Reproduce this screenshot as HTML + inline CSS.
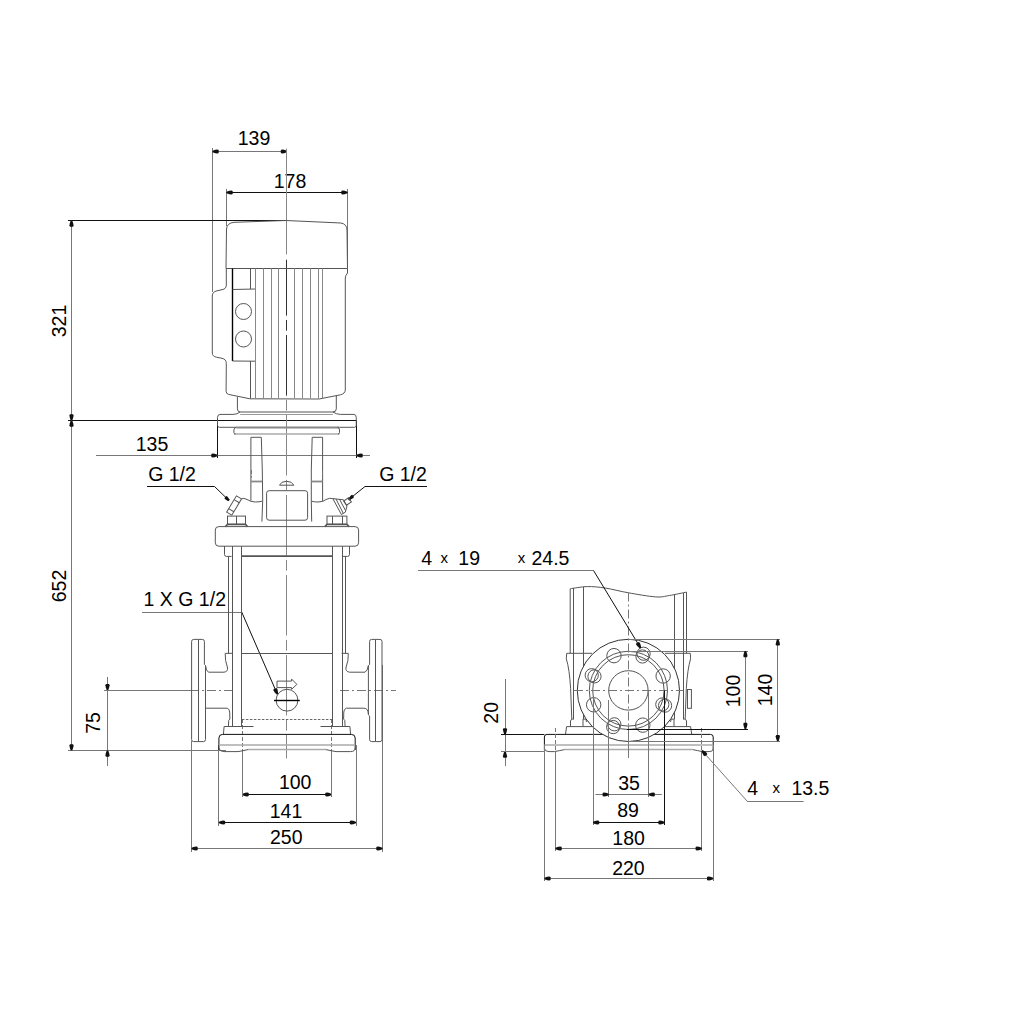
<!DOCTYPE html>
<html><head><meta charset="utf-8"><style>
html,body{margin:0;padding:0;background:#fff;}
svg{display:block;}
text{font-family:"Liberation Sans",sans-serif;fill:#000;}
.o{fill:none;stroke:#555;stroke-width:1;}
.ow{fill:#fff;stroke:#333;stroke-width:1;}
.f{fill:none;stroke:#888;stroke-width:1;}
.t{fill:none;stroke:#555;stroke-width:1.7;}
.g2{fill:none;stroke:#aaa;stroke-width:1.5;}
.d{fill:none;stroke:#777;stroke-width:1;}
.dk{fill:none;stroke:#111;stroke-width:1;}
.c{fill:none;stroke:#888;stroke-width:1;stroke-dasharray:60.5 4.5 10.5 4.5;stroke-dashoffset:4.8;}
.c2{fill:none;stroke:#777;stroke-width:1;stroke-dasharray:9 3 2 3;}
.cs{fill:none;stroke:#888;stroke-width:1;}
.dash2{fill:none;stroke:#777;stroke-width:1;stroke-dasharray:4 2;}
.dk2{fill:none;stroke:#000;stroke-width:1.4;}
.g1{fill:none;stroke:#999;stroke-width:1;}
.t2{fill:none;stroke:#888;stroke-width:1.8;}
.cm{fill:none;stroke:#333;stroke-width:1;stroke-dasharray:60.5 4.5 10.5 4.5;stroke-dashoffset:4.8;}
.dash{fill:none;stroke:#666;stroke-width:1;stroke-dasharray:2.5 1.5;}
.ar{fill:#111;stroke:none;}
</style></head><body>
<svg width="1024" height="1024" viewBox="0 0 1024 1024">
<rect width="1024" height="1024" fill="#fff"/>
<line x1="212.5" y1="148" x2="212.5" y2="292" class="d"/>
<line x1="212.5" y1="151.5" x2="286.5" y2="151.5" class="d"/>
<polygon points="212.50,150.70 215.29,149.82 217.46,149.40 218.70,149.93 218.70,153.07 217.46,153.60 215.29,153.18 212.50,152.30" class="ar"/>
<polygon points="287.00,152.30 284.21,153.18 282.04,153.60 280.80,153.07 280.80,149.93 282.04,149.40 284.21,149.82 287.00,150.70" class="ar"/>
<text x="254" y="145" font-size="19.5" text-anchor="middle">139</text>
<line x1="226.5" y1="189" x2="226.5" y2="226" class="d"/>
<line x1="347.5" y1="189" x2="347.5" y2="268" class="d"/>
<line x1="226.5" y1="192.5" x2="347.5" y2="192.5" class="dk"/>
<polygon points="226.50,191.70 229.29,190.82 231.46,190.40 232.70,190.93 232.70,194.07 231.46,194.60 229.29,194.18 226.50,193.30" class="ar"/>
<polygon points="347.50,193.30 344.71,194.18 342.54,194.60 341.30,194.07 341.30,190.93 342.54,190.40 344.71,190.82 347.50,191.70" class="ar"/>
<text x="290" y="188" font-size="19.5" text-anchor="middle">178</text>
<line x1="68" y1="220.5" x2="287" y2="220.5" class="dk"/>
<line x1="68" y1="420.5" x2="356.5" y2="420.5" class="dk"/>
<line x1="68" y1="750.5" x2="226" y2="750.5" class="d"/>
<line x1="71.5" y1="220.5" x2="71.5" y2="750.5" class="d"/>
<polygon points="72.30,220.50 73.18,223.29 73.60,225.46 73.08,226.70 69.92,226.70 69.40,225.46 69.82,223.29 70.70,220.50" class="ar"/>
<polygon points="70.70,420.50 69.82,417.71 69.40,415.54 69.92,414.30 73.08,414.30 73.60,415.54 73.18,417.71 72.30,420.50" class="ar"/>
<polygon points="72.30,420.50 73.18,423.29 73.60,425.46 73.08,426.70 69.92,426.70 69.40,425.46 69.82,423.29 70.70,420.50" class="ar"/>
<polygon points="70.70,750.50 69.82,747.71 69.40,745.54 69.92,744.30 73.08,744.30 73.60,745.54 73.18,747.71 72.30,750.50" class="ar"/>
<text x="65.5" y="321" font-size="19.5" text-anchor="middle" transform="rotate(-90 65.5 321)">321</text>
<text x="65.5" y="586" font-size="19.5" text-anchor="middle" transform="rotate(-90 65.5 586)">652</text>
<line x1="107.5" y1="677" x2="107.5" y2="766" class="d"/>
<polygon points="106.70,690.30 105.82,687.51 105.40,685.34 105.92,684.10 109.08,684.10 109.60,685.34 109.18,687.51 108.30,690.30" class="ar"/>
<polygon points="108.30,750.50 109.18,753.29 109.60,755.46 109.08,756.70 105.92,756.70 105.40,755.46 105.82,753.29 106.70,750.50" class="ar"/>
<line x1="104" y1="690.5" x2="190" y2="690.5" class="d"/>
<text x="100" y="723" font-size="19.5" text-anchor="middle" transform="rotate(-90 100 723)">75</text>
<line x1="217.5" y1="420.5" x2="217.5" y2="458" class="dk"/>
<line x1="356.5" y1="420.5" x2="356.5" y2="458" class="dk"/>
<line x1="96" y1="455.5" x2="370" y2="455.5" class="d"/>
<polygon points="217.50,456.30 214.71,457.18 212.54,457.60 211.30,457.07 211.30,453.93 212.54,453.40 214.71,453.82 217.50,454.70" class="ar"/>
<polygon points="356.50,454.70 359.29,453.82 361.46,453.40 362.70,453.93 362.70,457.07 361.46,457.60 359.29,457.18 356.50,456.30" class="ar"/>
<text x="152" y="451" font-size="19.5" text-anchor="middle">135</text>
<text x="172" y="480.5" font-size="19.5" text-anchor="middle">G 1/2</text>
<line x1="147" y1="486.5" x2="214.5" y2="486.5" class="dk"/>
<line x1="214.5" y1="486.5" x2="229" y2="500.5" class="dk"/>
<polygon points="228.17,501.36 226.38,499.97 224.87,499.02 224.47,498.00 226.34,496.06 227.37,496.43 228.38,497.90 229.83,499.64" class="ar"/>
<text x="403" y="480.8" font-size="19.5" text-anchor="middle">G 1/2</text>
<line x1="365" y1="486.5" x2="427" y2="486.5" class="dk"/>
<line x1="365" y1="486.5" x2="350" y2="498.5" class="dk"/>
<polygon points="347.74,498.77 349.69,496.88 351.10,495.28 352.31,494.87 354.01,496.97 353.36,498.08 351.50,499.12 349.26,500.63" class="ar"/>
<text x="184.8" y="606" font-size="19.5" text-anchor="middle">1 X G 1/2</text>
<line x1="142" y1="612.5" x2="241.7" y2="612.5" class="d"/>
<line x1="241.7" y1="612" x2="277.4" y2="694.3" class="dk"/>
<polygon points="276.67,694.62 274.75,692.41 273.50,690.58 273.49,689.24 276.38,687.98 277.36,688.91 277.83,691.07 278.13,693.98" class="ar"/>
<line x1="218.5" y1="745" x2="218.5" y2="826" class="d"/>
<line x1="356.5" y1="745" x2="356.5" y2="826" class="d"/>
<line x1="191.5" y1="741" x2="191.5" y2="852" class="d"/>
<line x1="382.5" y1="665" x2="382.5" y2="852" class="d"/>
<line x1="242.5" y1="794.5" x2="331.5" y2="794.5" class="dk"/>
<polygon points="242.50,793.70 245.29,792.82 247.46,792.40 248.70,792.92 248.70,796.08 247.46,796.60 245.29,796.18 242.50,795.30" class="ar"/>
<polygon points="331.50,795.30 328.71,796.18 326.54,796.60 325.30,796.08 325.30,792.92 326.54,792.40 328.71,792.82 331.50,793.70" class="ar"/>
<text x="295.2" y="789" font-size="19.5" text-anchor="middle">100</text>
<line x1="218.9" y1="822.5" x2="356" y2="822.5" class="dk"/>
<polygon points="218.90,821.70 221.69,820.82 223.86,820.40 225.10,820.92 225.10,824.08 223.86,824.60 221.69,824.18 218.90,823.30" class="ar"/>
<polygon points="356.00,823.30 353.21,824.18 351.04,824.60 349.80,824.08 349.80,820.92 351.04,820.40 353.21,820.82 356.00,821.70" class="ar"/>
<text x="286" y="818" font-size="19.5" text-anchor="middle">141</text>
<line x1="191.5" y1="848.5" x2="382.5" y2="848.5" class="d"/>
<polygon points="191.50,847.70 194.29,846.82 196.46,846.40 197.70,846.92 197.70,850.08 196.46,850.60 194.29,850.18 191.50,849.30" class="ar"/>
<polygon points="382.50,849.30 379.71,850.18 377.54,850.60 376.30,850.08 376.30,846.92 377.54,846.40 379.71,846.82 382.50,847.70" class="ar"/>
<text x="286.3" y="844" font-size="19.5" text-anchor="middle">250</text>
<line x1="286.5" y1="148.6" x2="286.5" y2="254.4" class="cs"/>
<line x1="286.5" y1="259.8" x2="286.5" y2="758.5" class="c"/>
<line x1="286.5" y1="259.8" x2="286.5" y2="398.5" class="cm"/>
<line x1="190" y1="690.5" x2="234.6" y2="690.5" class="c2"/>
<line x1="340" y1="690.5" x2="396" y2="690.5" class="c2"/>
<line x1="242.5" y1="719" x2="242.5" y2="752" class="dash2"/>
<line x1="242.5" y1="752" x2="242.5" y2="797" class="d"/>
<line x1="331.5" y1="719" x2="331.5" y2="752" class="dash2"/>
<line x1="331.5" y1="752" x2="331.5" y2="797" class="d"/>
<path d="M226,268.5 L226.5,229 Q227,223 234,222.3 L286,220.5 L341,223 Q346.8,224 347,230 L347.5,268.5 Z" class="o"/>
<path d="M226.3,268.5 L226.3,285 Q226.3,289 222,289.7 L217,290.8 Q212.3,291.8 212.3,296 L212.3,353 Q212.3,356.5 216.5,357.2 L222,358.3 Q226.3,359.2 226.3,363.5 L226.1,391.5 Q226.3,393.8 228.6,394.4 L249.9,398.8 L319.1,399 L340.5,394.8 Q345.1,393.6 345.3,390 L345.3,278 Q345.3,275.5 347.5,273 L347.5,268.5" class="o"/>
<line x1="232.5" y1="268.5" x2="232.5" y2="361" class="dk2"/>
<line x1="255.5" y1="289" x2="255.5" y2="361" class="o"/>
<line x1="232.5" y1="289.5" x2="255" y2="289" class="o"/>
<line x1="232.5" y1="361" x2="255" y2="361.2" class="o"/>
<line x1="250.5" y1="268.5" x2="250.5" y2="289" class="o"/>
<line x1="250.5" y1="361" x2="250.5" y2="398.5" class="o"/>
<circle cx="243.50" cy="311.50" r="8" class="o"/>
<circle cx="243.50" cy="339.00" r="8" class="o"/>
<line x1="255.5" y1="268.5" x2="255.5" y2="398.5" class="f"/>
<line x1="263.5" y1="268.5" x2="263.5" y2="398.5" class="f"/>
<line x1="271.5" y1="268.5" x2="271.5" y2="398.5" class="f"/>
<line x1="278.5" y1="268.5" x2="278.5" y2="398.5" class="f"/>
<line x1="294.5" y1="268.5" x2="294.5" y2="398.5" class="f"/>
<line x1="302.5" y1="268.5" x2="302.5" y2="398.5" class="f"/>
<line x1="310.5" y1="268.5" x2="310.5" y2="398.5" class="f"/>
<line x1="318.5" y1="268.5" x2="318.5" y2="398.5" class="f"/>
<line x1="322.5" y1="268.5" x2="322.5" y2="398.5" class="f"/>
<path d="M237.4,396.8 L237.4,408.9 Q237.6,412 240.2,412 L332.8,412 Q336.3,412 336.3,408.9 L336.3,396" class="o"/>
<path d="M240.2,412 Q237,414.4 233.1,414.4 L220,414.4 Q217.5,414.6 217.5,417.5 L217.5,425.5 Q217.7,427.3 219.5,427.3 L236.3,427.3" class="o"/>
<path d="M332.8,412 Q336.5,414.4 340.6,414.4 L354,414.4 Q356.25,414.6 356.25,417.5 L356.25,425.5 Q356,427.3 354.5,427.3 L339.5,427.3" class="o"/>
<line x1="240.2" y1="414.5" x2="332.8" y2="414.5" class="g1"/>
<line x1="236.3" y1="427.5" x2="339.5" y2="427.5" class="t2"/>
<line x1="233.9" y1="433.9" x2="339.5" y2="433.9" class="g2"/>
<path d="M236.3,427.3 Q233.9,427.7 233.9,430 L233.9,432.5 Q234,433.9 235.5,433.9" class="o"/>
<path d="M337.5,427.3 Q339.5,427.7 339.5,430 L339.5,432.5 Q339.4,433.9 338,433.9" class="o"/>
<path d="M250.9,500.8 L250.9,437.3 L261.3,437.3 L262.3,470 L262.7,501 L261.9,521.6" class="o"/>
<path d="M322.6,501 L322.6,437.3 L312.2,437.3 L311.3,470 L311.3,501 L311.7,521.6" class="o"/>
<line x1="250.9" y1="481.5" x2="262.3" y2="481.5" class="t2"/>
<line x1="311.3" y1="481.5" x2="322.6" y2="481.5" class="t2"/>
<rect x="266.6" y="490.7" width="41" height="29.5" rx="2.5" class="o"/>
<line x1="251.5" y1="470" x2="251.5" y2="477.5" class="dash2"/>
<line x1="322.5" y1="471" x2="322.5" y2="478" class="dash2"/>
<path d="M279.5,485.2 Q281,481.3 286.5,481.3 Q292,481.3 293.9,485.2 Z" class="o"/>
<path d="M241.6,498.9 Q243.5,497.5 247,499.5 Q251,502 255.6,502 Q259,502 262,501.2" class="o"/>
<path d="M332.8,498.6 Q330,497.5 326,499.5 Q323.5,502 318,502 Q314,502 311.7,501.2" class="o"/>
<g transform="translate(234.1,505.5) rotate(-59)"><rect x="-9.5" y="-3" width="19" height="6" class="o"/><line x1="5" y1="-3" x2="5" y2="3" class="o"/><line x1="-5.5" y1="-3" x2="-5.5" y2="3" class="o"/></g>
<path d="M332.8,498.6 L343.5,499.8 L347,506 L345.3,512.2 L341.4,514.5 Z" class="o"/>
<line x1="336" y1="499" x2="343.2" y2="513.2" class="o"/>
<line x1="339.5" y1="499.3" x2="345.5" y2="510.5" class="o"/>
<g transform="translate(347.5,501.5) rotate(-35)"><rect x="-3" y="-2.5" width="6" height="5" class="o"/></g>
<rect x="227.5" y="516.1" width="18" height="8.3" rx="0" class="o"/>
<line x1="236.5" y1="516.1" x2="236.5" y2="524.3" class="o"/>
<path d="M225.5,526.6 L227.5,524.3 L245.5,524.3 L247.4,526.6" class="t"/>
<rect x="327" y="516.1" width="19.9" height="8.3" rx="0" class="o"/>
<line x1="332.5" y1="516.1" x2="332.5" y2="524.3" class="o"/>
<line x1="342.5" y1="516.1" x2="342.5" y2="524.3" class="o"/>
<path d="M325,526.6 L327,524.3 L346.9,524.3 L349,526.6" class="t"/>
<rect x="215.3" y="526.6" width="143.3" height="19.6" rx="3.5" class="o"/>
<path d="M224.5,546.1 L224.5,554.5 Q224.5,556.4 226.5,556.4 L231.6,556.4" class="o"/>
<path d="M349.5,546.1 L349.5,554.5 Q349.5,556.4 347.5,556.4 L342.2,556.4" class="o"/>
<line x1="232.5" y1="546.1" x2="232.5" y2="726.2" class="o"/>
<line x1="241.5" y1="546.1" x2="241.5" y2="726.2" class="o"/>
<line x1="332.5" y1="546.1" x2="332.5" y2="726.2" class="o"/>
<line x1="342.5" y1="546.1" x2="342.5" y2="726.2" class="o"/>
<line x1="228.5" y1="556.4" x2="228.5" y2="653.3" class="o"/>
<line x1="345.5" y1="556.4" x2="345.5" y2="653.3" class="o"/>
<line x1="241.5" y1="556.2" x2="332.3" y2="556.2" class="t"/>
<line x1="241.5" y1="653.5" x2="332.3" y2="653.5" class="o"/>
<line x1="241.9" y1="719.5" x2="332.1" y2="719.5" class="dash"/>
<path d="M204.4,664.4 L204.4,641.5 Q204.4,639.4 202.4,639.4 L193.6,639.4 Q191.6,639.4 191.6,641.5 L191.6,739.5 Q191.6,741.6 193.6,741.6 L203.5,741.6 Q205.5,741.6 205.5,739.5 L205.5,665.5 Z" class="o"/>
<line x1="198.5" y1="640" x2="198.5" y2="741" class="o"/>
<path d="M205.5,665.5 Q206,671 208.5,672.2 L224,672.2 Q228,671.5 227.6,668 L225.6,660.5 L225.2,653.4 L232.3,653.3" class="o"/>
<path d="M205.5,708.2 L227.2,708.2 Q229.5,709 229.7,712 L229.9,719.1 L228.75,720.3 L228.4,726.2" class="o"/>
<path d="M369.6,664.4 L369.6,641.5 Q369.6,639.4 371.6,639.4 L380,639.4 Q382,639.4 382,641.5 L382,739.5 Q382,741.6 380,741.6 L371.6,741.6 Q369.6,741.6 369.6,739.5 L369.6,716 L368.4,715 L368.4,665.5 Z" class="o"/>
<line x1="375.5" y1="640" x2="375.5" y2="741" class="o"/>
<path d="M368.4,665.5 Q367.5,671 365,672.2 L349.5,672.2 Q345.5,671.5 345.9,668 L347.9,660.5 L348.3,653.4 L341.6,653.3" class="o"/>
<path d="M368.4,714 Q368,708.2 364,708.2 L346.3,708.2 Q344,709 343.8,712 L343.6,719.1 L344.75,720.3 L345.1,726.2" class="o"/>
<circle cx="287.00" cy="700.20" r="10.9" class="o"/>
<line x1="274" y1="700.5" x2="299.8" y2="700.5" class="dk2"/>
<path d="M277,681.1 L291.6,681.1 L291.6,679.1 L296.9,684.4 L291.6,689.3 L291.6,687.6 L277,687.6 Z" class="o"/>
<path d="M223.4,734.4 L224.1,726.5 L253.5,726.5" class="o"/>
<path d="M350.6,734.4 L349.9,726.5 L320.5,726.5" class="o"/>
<path d="M218.9,750 L218.9,738 Q218.9,734.4 222.5,734.4 L351.3,734.4 Q355.2,734.4 355.2,738 L355.2,750" class="dk"/>
<path d="M218.9,748 Q219.5,751.6 224,751.6 L238,751.6 Q243,750.8 248,749.6" class="o"/>
<path d="M326,749.6 Q331,750.8 336,751.6 L350.5,751.6 Q355.2,751.6 355.2,748" class="o"/>
<line x1="248" y1="749.6" x2="326" y2="749.6" class="g2"/>
<line x1="218.9" y1="744.9" x2="355.2" y2="744.9" class="g2"/>
<path d="M570.2,653.3 L570.2,588.7" class="o"/>
<path d="M570.3,588.7 C573.13,588.35 581.50,586.72 587.3,586.6 C593.10,586.48 598.25,586.97 605.1,588 C611.95,589.03 619.97,591.32 628.4,592.8 C636.83,594.28 648.87,596.45 655.7,596.9 C662.53,597.35 664.27,596.30 669.4,595.5 C674.53,594.70 683.65,592.67 686.5,592.1" class="o"/>
<path d="M686.5,592.1 L686.5,653.3" class="o"/>
<line x1="573.5" y1="588" x2="573.5" y2="719.3" class="o"/>
<line x1="583.5" y1="586.8" x2="583.5" y2="719.3" class="o"/>
<line x1="674.5" y1="594" x2="674.5" y2="719.3" class="o"/>
<line x1="683.5" y1="593" x2="683.5" y2="719.3" class="o"/>
<path d="M592,653.3 L566.7,653.3 L566.3,658.75 Q569.5,669 570.6,688.4 L571.8,719.3" class="o"/>
<path d="M665,653.3 L690.3,653.3 L690.6,658.75 Q687.5,669 686.3,688.4 L685.2,719.3" class="o"/>
<rect x="687.5" y="689.5" width="3.9" height="18.8" rx="0" class="o"/>
<path d="M570.5,726.6 L570.5,721 Q571,719.1 572.5,719.1 L573.7,719.1" class="o"/>
<path d="M583,726.6 L583,719.1 L585.8,719.1 L586.5,722" class="o"/>
<path d="M686.5,726.6 L686.5,721 Q686,719.1 684.5,719.1 L683.3,719.1" class="o"/>
<path d="M674,726.6 L674,719.1 L671.2,719.1 L670.5,722" class="o"/>
<path d="M565.5,734.2 L566.6,726.6 L690.6,726.6 L691.7,734.2" class="o"/>
<path d="M544.4,750 L544.4,737 Q544.4,734.4 547,734.4 L710.5,734.4 Q713.2,734.4 713.2,737 L713.2,750" class="dk"/>
<path d="M544.4,748.5 Q545,751.6 549,751.6 L554.5,751.6 Q560,750.5 564.7,749.6" class="o"/>
<path d="M692.7,749.6 Q697,750.5 702.5,751.6 L709,751.6 Q713.2,751.6 713.2,748.5" class="o"/>
<line x1="564.7" y1="749.6" x2="692.7" y2="749.6" class="g2"/>
<line x1="544.4" y1="744.9" x2="713.2" y2="744.9" class="g2"/>
<circle cx="628.4" cy="690.4" r="51.1" class="ow"/>
<circle cx="628.40" cy="690.40" r="39.1" class="o"/>
<circle cx="628.40" cy="690.40" r="35.7" class="o"/>
<circle cx="628.40" cy="690.40" r="19.7" class="o"/>
<circle cx="662.31" cy="704.44" r="6.6" class="o"/>
<circle cx="665.08" cy="705.59" r="6.6" class="o"/>
<circle cx="642.79" cy="725.14" r="7.2" class="o"/>
<circle cx="614.36" cy="724.31" r="6.6" class="o"/>
<circle cx="613.21" cy="727.08" r="6.6" class="o"/>
<circle cx="593.66" cy="704.79" r="7.2" class="o"/>
<circle cx="594.49" cy="676.36" r="6.6" class="o"/>
<circle cx="591.72" cy="675.21" r="6.6" class="o"/>
<circle cx="614.01" cy="655.66" r="7.2" class="o"/>
<circle cx="642.44" cy="656.49" r="6.6" class="o"/>
<circle cx="643.59" cy="653.72" r="6.6" class="o"/>
<circle cx="663.14" cy="676.01" r="7.2" class="o"/>
<line x1="628.5" y1="592.5" x2="628.5" y2="726" class="c2"/>
<line x1="628.5" y1="726" x2="628.5" y2="758" class="d"/>
<line x1="574" y1="690.5" x2="683" y2="690.5" class="c2"/>
<text x="426.7" y="565" font-size="19.5" text-anchor="middle">4</text>
<text x="444.3" y="563.2" font-size="15" text-anchor="middle">x</text>
<text x="469.2" y="565" font-size="19.5" text-anchor="middle">19</text>
<text x="521.6" y="563.2" font-size="15" text-anchor="middle">x</text>
<text x="550.5" y="565" font-size="19.5" text-anchor="middle">24.5</text>
<line x1="418" y1="570.5" x2="593.5" y2="570.5" class="d"/>
<line x1="593.5" y1="570.5" x2="640.6" y2="648" class="dk"/>
<polygon points="639.92,648.42 637.72,646.49 636.23,644.85 636.03,643.52 638.72,641.88 639.82,642.67 640.59,644.74 641.28,647.58" class="ar"/>
<line x1="505.5" y1="679" x2="505.5" y2="766" class="d"/>
<polygon points="504.20,734.40 503.32,731.61 502.90,729.44 503.43,728.20 506.57,728.20 507.10,729.44 506.68,731.61 505.80,734.40" class="ar"/>
<polygon points="505.80,751.60 506.68,754.39 507.10,756.56 506.57,757.80 503.43,757.80 502.90,756.56 503.32,754.39 504.20,751.60" class="ar"/>
<line x1="501" y1="734.5" x2="544.4" y2="734.5" class="dk"/>
<line x1="501" y1="751.5" x2="544.4" y2="751.5" class="d"/>
<text x="498" y="712.8" font-size="19.5" text-anchor="middle" transform="rotate(-90 498 712.8)">20</text>
<line x1="608.5" y1="700" x2="608.5" y2="797" class="d"/>
<line x1="648.5" y1="690.4" x2="648.5" y2="797" class="d"/>
<line x1="593.5" y1="697" x2="593.5" y2="825" class="d"/>
<line x1="664.5" y1="690.4" x2="664.5" y2="825" class="dk"/>
<line x1="555.5" y1="728" x2="555.5" y2="752" class="dash2"/>
<line x1="555.5" y1="752" x2="555.5" y2="851" class="d"/>
<line x1="701.5" y1="728" x2="701.5" y2="752" class="dash2"/>
<line x1="701.5" y1="752" x2="701.5" y2="851" class="d"/>
<line x1="544.5" y1="745" x2="544.5" y2="881" class="d"/>
<line x1="713.5" y1="745" x2="713.5" y2="881" class="d"/>
<line x1="595.4" y1="794.5" x2="661.8" y2="794.5" class="d"/>
<polygon points="608.80,795.30 606.01,796.18 603.84,796.60 602.60,796.08 602.60,792.92 603.84,792.40 606.01,792.82 608.80,793.70" class="ar"/>
<polygon points="648.60,793.70 651.39,792.82 653.56,792.40 654.80,792.92 654.80,796.08 653.56,796.60 651.39,796.18 648.60,795.30" class="ar"/>
<text x="629" y="790" font-size="19.5" text-anchor="middle">35</text>
<line x1="593" y1="822.5" x2="664.6" y2="822.5" class="dk"/>
<polygon points="593.00,821.70 595.79,820.82 597.96,820.40 599.20,820.92 599.20,824.08 597.96,824.60 595.79,824.18 593.00,823.30" class="ar"/>
<polygon points="664.60,823.30 661.81,824.18 659.64,824.60 658.40,824.08 658.40,820.92 659.64,820.40 661.81,820.82 664.60,821.70" class="ar"/>
<text x="628" y="816.5" font-size="19.5" text-anchor="middle">89</text>
<line x1="555.5" y1="848.5" x2="701.8" y2="848.5" class="d"/>
<polygon points="555.50,847.70 558.29,846.82 560.46,846.40 561.70,846.92 561.70,850.08 560.46,850.60 558.29,850.18 555.50,849.30" class="ar"/>
<polygon points="701.80,849.30 699.01,850.18 696.84,850.60 695.60,850.08 695.60,846.92 696.84,846.40 699.01,846.82 701.80,847.70" class="ar"/>
<text x="628.6" y="844.5" font-size="19.5" text-anchor="middle">180</text>
<line x1="544.4" y1="878.5" x2="713.2" y2="878.5" class="d"/>
<polygon points="544.40,877.70 547.19,876.82 549.36,876.40 550.60,876.92 550.60,880.08 549.36,880.60 547.19,880.18 544.40,879.30" class="ar"/>
<polygon points="713.20,879.30 710.41,880.18 708.24,880.60 707.00,880.08 707.00,876.92 708.24,876.40 710.41,876.82 713.20,877.70" class="ar"/>
<text x="628.4" y="875" font-size="19.5" text-anchor="middle">220</text>
<line x1="628.4" y1="651.5" x2="748" y2="651.5" class="d"/>
<line x1="627" y1="729.5" x2="748" y2="729.5" class="dk"/>
<line x1="745.5" y1="651" x2="745.5" y2="729" class="d"/>
<polygon points="746.20,651.00 747.08,653.79 747.50,655.96 746.98,657.20 743.82,657.20 743.30,655.96 743.72,653.79 744.60,651.00" class="ar"/>
<polygon points="744.60,729.00 743.72,726.21 743.30,724.04 743.82,722.80 746.98,722.80 747.50,724.04 747.08,726.21 746.20,729.00" class="ar"/>
<text x="739.5" y="691" font-size="19.5" text-anchor="middle" transform="rotate(-90 739.5 691)">100</text>
<line x1="628.4" y1="639.5" x2="780" y2="639.5" class="d"/>
<line x1="628.4" y1="741.5" x2="780" y2="741.5" class="d"/>
<line x1="777.5" y1="639.3" x2="777.5" y2="741.3" class="d"/>
<polygon points="778.60,639.30 779.48,642.09 779.90,644.26 779.38,645.50 776.22,645.50 775.70,644.26 776.12,642.09 777.00,639.30" class="ar"/>
<polygon points="777.00,741.30 776.12,738.51 775.70,736.34 776.22,735.10 779.38,735.10 779.90,736.34 779.48,738.51 778.60,741.30" class="ar"/>
<text x="771.5" y="690" font-size="19.5" text-anchor="middle" transform="rotate(-90 771.5 690)">140</text>
<line x1="702" y1="750.6" x2="747" y2="801" class="d"/>
<line x1="747" y1="801.5" x2="803.6" y2="801.5" class="d"/>
<polygon points="702.59,750.06 705.12,751.55 706.88,752.88 707.32,754.15 704.98,756.26 703.76,755.69 702.62,753.80 701.41,751.14" class="ar"/>
<text x="752.8" y="794.6" font-size="19.5" text-anchor="middle">4</text>
<text x="776.2" y="793" font-size="15" text-anchor="middle">x</text>
<text x="810.4" y="794.6" font-size="19.5" text-anchor="middle">13.5</text>
</svg></body></html>
